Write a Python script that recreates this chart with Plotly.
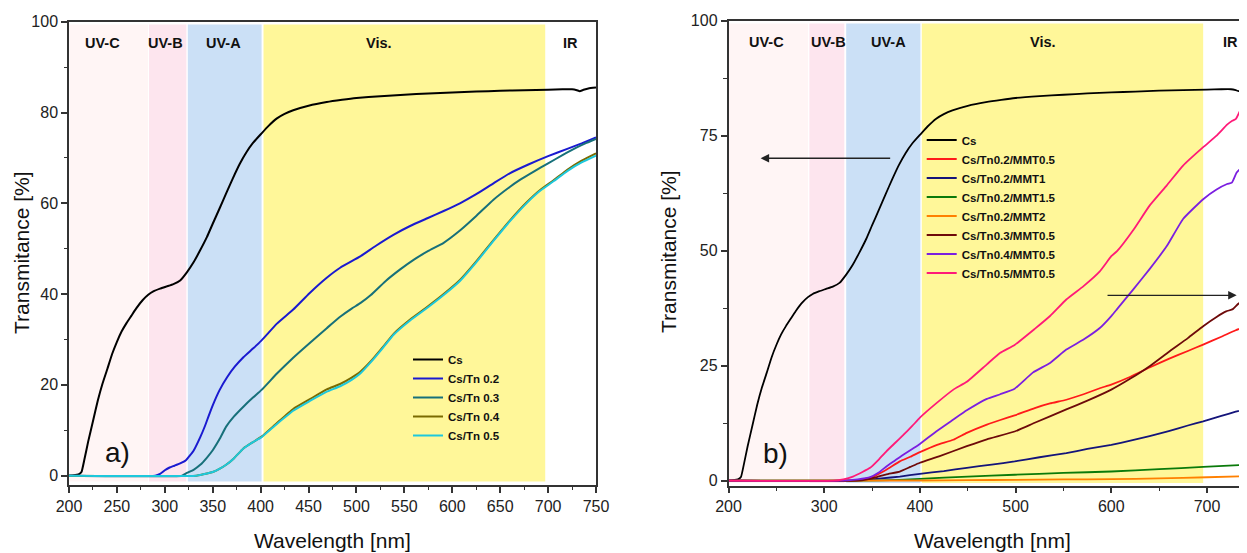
import plotly.graph_objects as go

# ---------------- data ----------------
cs_wl = [200, 205, 210, 213, 216, 220, 225, 230, 235, 240, 245, 250, 255, 260, 265, 270, 277, 283, 288, 295,
         302, 309, 316, 323, 330, 337, 344, 350, 357, 364, 371, 378, 385, 392, 401, 408, 417, 425, 434, 450,
         469, 485, 500, 525, 550, 575, 600, 625, 650, 675, 700, 715, 725, 730, 733, 737, 742, 750]
cs_t = [0, 0.1, 0.3, 0.8, 3.5, 7.5, 12, 16.5, 20.3, 23.5, 26.8, 29.5, 31.8, 33.6, 35.2, 36.8, 38.7, 39.9, 40.6, 41.2,
        41.7, 42.2, 43.0, 44.8, 47.0, 49.7, 52.6, 55.5, 58.8, 62.2, 65.5, 68.6, 71.2, 73.3, 75.4, 77.0, 78.7, 79.7, 80.5, 81.5,
        82.3, 82.8, 83.2, 83.6, 83.9, 84.2, 84.4, 84.6, 84.8, 84.9, 85.0, 85.1, 85.1, 84.9, 84.7, 85.0, 85.3, 85.5]

tn02_wl = [200, 290, 295, 300, 305, 310, 316, 322, 330, 337, 342, 346, 350, 357, 365, 373, 382, 392, 401, 417,
           434, 451, 469, 483, 504, 520, 539, 556, 574, 591, 608, 625, 643, 660, 680, 700, 720, 735, 750]
tn02_t = [0, 0, 0.4, 1.2, 1.8, 2.2, 2.7, 3.4, 5.5, 8.5, 11.0, 13.3, 15.5, 18.8, 21.7, 24.0, 26.1, 28.0, 29.8, 33.5,
          36.6, 40.2, 43.6, 45.8, 48.3, 50.6, 53.1, 55.0, 56.7, 58.3, 60.0, 62.0, 64.4, 66.6, 68.6, 70.4, 72.0, 73.2, 74.5]

tn03_wl = [200, 318, 323, 330, 337, 344, 350, 357, 364, 372, 382, 392, 401, 417, 434, 451, 469, 483, 495, 504,
           515, 530, 546, 560, 575, 591, 608, 625, 643, 660, 671, 685, 700, 715, 730, 740, 750]
tn03_t = [0, 0, 0.6, 1.3, 2.4, 4.0, 5.6, 8.0, 10.8, 13.0, 15.2, 17.2, 18.9, 22.5, 26.0, 29.2, 32.5, 35.0, 36.8, 38.0,
          39.8, 42.8, 45.5, 47.6, 49.5, 51.3, 54.0, 57.2, 60.8, 63.6, 65.2, 67.0, 68.8, 70.6, 72.3, 73.3, 74.2]

tn04_wl = [200, 333, 340, 350, 357, 364, 372, 382, 392, 401, 417, 434, 451, 469, 483, 495, 504, 515, 527, 539,
           556, 574, 591, 608, 625, 643, 660, 678, 692, 706, 720, 735, 750]
tn04_t = [0, 0, 0.3, 0.8, 1.5, 2.4, 3.8, 6.0, 7.4, 8.6, 11.6, 14.7, 16.8, 19.0, 20.2, 21.6, 22.9, 25.2, 28.2, 31.3,
          34.4, 37.2, 40.0, 43.1, 47.2, 51.9, 56.2, 60.3, 63.0, 65.1, 67.4, 69.4, 71.0]

tn05_wl = [200, 333, 340, 350, 357, 364, 372, 382, 392, 401, 417, 434, 451, 469, 483, 495, 504, 515, 527, 539,
           556, 574, 591, 608, 625, 643, 660, 678, 692, 706, 720, 735, 750]
tn05_t = [0, 0, 0.3, 0.8, 1.5, 2.4, 3.8, 6.0, 7.4, 8.5, 11.4, 14.3, 16.4, 18.5, 19.7, 21.1, 22.5, 25.0, 28.0, 31.1,
          34.2, 37.0, 39.8, 42.9, 47.0, 51.7, 56.0, 60.1, 62.8, 64.9, 67.1, 69.0, 70.5]

# right panel
m1_wl = [200, 330, 340, 350, 365, 379, 390, 400, 418, 435, 449, 470, 484, 499, 520, 536, 553, 571, 588, 600,
         620, 640, 660, 680, 696, 715, 730, 742]
m1_t = [0, 0, 0.3, 0.8, 2.4, 4.2, 5.2, 6.2, 7.8, 8.9, 10.4, 12.2, 13.2, 14.2, 15.8, 16.8, 17.6, 18.8, 20.1, 20.9,
        22.6, 24.6, 26.5, 28.2, 29.6, 31.3, 32.7, 33.6]

m2_wl = [200, 330, 345, 360, 379, 400, 425, 449, 475, 499, 525, 553, 575, 600, 620, 640, 660, 680, 696, 715, 730, 742]
m2_t = [0, 0, 0.2, 0.5, 0.9, 1.5, 2.1, 2.8, 3.5, 4.2, 5.1, 6.0, 6.9, 7.8, 8.7, 9.7, 10.8, 12.0, 12.9, 14.1, 15.0, 15.6]

m3_wl = [200, 340, 379, 400, 450, 499, 550, 600, 650, 696, 742]
m3_t = [0, 0, 0.2, 0.4, 0.9, 1.3, 1.7, 2.0, 2.5, 3.0, 3.5]

m4_wl = [200, 400, 450, 500, 550, 600, 650, 700, 742]
m4_t = [0, 0.05, 0.12, 0.2, 0.28, 0.35, 0.5, 0.75, 1.0]

m5_wl = [200, 335, 345, 355, 365, 379, 390, 400, 420, 449, 470, 499, 520, 553, 575, 600, 620, 640, 660, 680,
         696, 710, 720, 727, 733, 742]
m5_t = [0, 0, 0.3, 0.8, 1.4, 2.0, 3.0, 3.9, 5.3, 7.5, 9.0, 10.7, 12.6, 15.5, 17.4, 19.8, 22.2, 24.9, 28.0, 31.0,
        33.6, 35.6, 36.8, 37.3, 38.5, 39.4]

m6_wl = [200, 320, 335, 348, 357, 365, 374, 383, 392, 400, 417, 435, 449, 470, 484, 499, 518, 536, 553, 571,
         588, 600, 606, 623, 640, 658, 675, 696, 710, 721, 726, 731, 737, 742]
m6_t = [0, 0, 0.3, 0.8, 1.8, 3.1, 4.4, 5.7, 6.9, 8.0, 10.7, 13.3, 15.3, 17.8, 18.8, 20.0, 23.5, 25.6, 28.5, 30.7,
        33.2, 35.8, 37.3, 41.6, 46.0, 51.0, 56.9, 61.2, 63.3, 64.5, 64.8, 67.0, 68.2, 68.8]

m7_wl = [200, 310, 320, 330, 340, 348, 357, 365, 374, 383, 392, 400, 417, 435, 449, 470, 484, 499, 520, 536,
         553, 571, 588, 600, 606, 623, 640, 658, 675, 696, 710, 721, 726, 730, 735, 742]
m7_t = [0, 0, 0.3, 0.9, 1.9, 2.8, 4.6, 6.4, 8.2, 10.0, 11.9, 13.7, 16.8, 19.8, 21.5, 25.3, 27.8, 29.5, 33.0, 35.8,
        39.4, 42.3, 45.5, 48.8, 49.9, 54.5, 59.8, 64.2, 68.5, 72.5, 75.0, 77.4, 78.2, 78.6, 80.6, 82.6]

left_names = ["Cs", "Cs/Tn 0.2", "Cs/Tn 0.3", "Cs/Tn 0.4", "Cs/Tn 0.5"]
left_colors = ["#000000", "#1a1ad0", "#17707a", "#7a6a00", "#1ec8dc"]
left_x = [cs_wl, tn02_wl, tn03_wl, tn04_wl, tn05_wl]
left_y = [cs_t, tn02_t, tn03_t, tn04_t, tn05_t]

right_names = ["Cs", "Cs/Tn0.2/MMT0.5", "Cs/Tn0.2/MMT1", "Cs/Tn0.2/MMT1.5", "Cs/Tn0.2/MMT2",
               "Cs/Tn0.3/MMT0.5", "Cs/Tn0.4/MMT0.5", "Cs/Tn0.5/MMT0.5"]
right_colors = ["#000000", "#ff1a1a", "#14147a", "#0a7a0a", "#ff8000", "#6e0a0a", "#7b1fe0", "#ff1a78"]
right_x = [cs_wl, m1_wl, m2_wl, m3_wl, m4_wl, m5_wl, m6_wl, m7_wl]
right_y = [cs_t, m1_t, m2_t, m3_t, m4_t, m5_t, m6_t, m7_t]

region_colors = ["#fff5f5", "#fde5ee", "#cbe0f6", "#fff799"]
left_bands = [(200.5, 282.5), (283.5, 322.5), (324, 401), (403, 697)]
right_bands = [(200.5, 283), (284.5, 321), (323, 400.5), (402, 696)]
label_names = ["UV-C", "UV-B", "UV-A", "Vis.", "IR"]
left_label_x = [235, 301, 361, 524, 723]
right_label_x = [240, 304, 367, 529, 725]

FONT = "Arial, 'Liberation Sans', sans-serif"
# the page body has an 8px margin: the figure is laid out in page pixels minus that offset
OFF = 8
W, H = 1247 - OFF, 553 - OFF


def px(x):
    return (x - OFF) / W


def py(y):
    return 1 - (y - OFF) / H


fig = go.Figure()
for n, xs, ys, c in zip(left_names, left_x, left_y, left_colors):
    fig.add_trace(go.Scatter(x=xs, y=ys, mode="lines", name=n,
                             line=dict(color=c, width=2, shape="spline", smoothing=0.4),
                             xaxis="x", yaxis="y", legend="legend"))
for n, xs, ys, c in zip(right_names, right_x, right_y, right_colors):
    fig.add_trace(go.Scatter(x=xs, y=ys, mode="lines", name=n,
                             line=dict(color=c, width=1.8, shape="spline", smoothing=0.4),
                             xaxis="x2", yaxis="y2", legend="legend2"))

shapes = []
for (x0, x1), col in zip(left_bands, region_colors):
    shapes.append(dict(type="rect", xref="x", yref="y", x0=x0, x1=x1, y0=-1.3, y1=99.4,
                       fillcolor=col, line=dict(width=0), layer="below"))
for (x0, x1), col in zip(right_bands, region_colors):
    shapes.append(dict(type="rect", xref="x2", yref="y2", x0=x0, x1=x1, y0=-0.5, y1=99.4,
                       fillcolor=col, line=dict(width=0), layer="below"))

ann = []
lfont = dict(family=FONT, size=14.5, color="#111", weight="bold")
for t, x in zip(label_names, left_label_x):
    ann.append(dict(text=t, x=x, y=95.3, xref="x", yref="y", showarrow=False, font=lfont,
                    xanchor="center", yanchor="middle"))
for t, x in zip(label_names, right_label_x):
    ann.append(dict(text=t, x=x, y=95.4, xref="x2", yref="y2", showarrow=False, font=lfont,
                    xanchor="center", yanchor="middle"))
ann.append(dict(text="a)", x=251, y=5.2, xref="x", yref="y", showarrow=False,
                xanchor="center", yanchor="middle", font=dict(family=FONT, size=28, color="#111")))
ann.append(dict(text="b)", x=249, y=6.0, xref="x2", yref="y2", showarrow=False,
                xanchor="center", yanchor="middle", font=dict(family=FONT, size=28, color="#111")))
# arrows
ann.append(dict(text="", x=233.6, y=70.1, ax=370.5, ay=70.1, xref="x2", yref="y2", axref="x2", ayref="y2",
                showarrow=True, arrowhead=2, arrowsize=1.3, arrowwidth=1.3, arrowcolor="#222"))
ann.append(dict(text="", x=731, y=40.3, ax=594.5, ay=40.3, xref="x2", yref="y2", axref="x2", ayref="y2",
                showarrow=True, arrowhead=2, arrowsize=1.3, arrowwidth=1.3, arrowcolor="#222"))
# axis titles
tfont = dict(family=FONT, size=21, color="#111")
ann.append(dict(text="Wavelength [nm]", x=px(332.5), y=py(540), xref="paper", yref="paper",
                xanchor="center", yanchor="middle", showarrow=False, font=tfont))
ann.append(dict(text="Wavelength [nm]", x=px(992), y=py(540), xref="paper", yref="paper",
                xanchor="center", yanchor="middle", showarrow=False, font=tfont))
ann.append(dict(text="Transmitance [%]", x=px(22), y=py(253), xref="paper", yref="paper",
                xanchor="center", yanchor="middle", showarrow=False, textangle=-90, font=tfont))
ann.append(dict(text="Transmitance [%]", x=px(668), y=py(252), xref="paper", yref="paper",
                xanchor="center", yanchor="middle", showarrow=False, textangle=-90, font=tfont))

tickfont = dict(family=FONT, size=16, color="#222")
axis_common = dict(showgrid=False, zeroline=False, showline=True, linecolor="#333", linewidth=1.5,
                   ticks="outside", ticklen=6, tickwidth=1.5, tickcolor="#333", tickfont=tickfont,
                   automargin=False)

fig.update_layout(
    template="none",
    width=W, height=H,
    margin=dict(l=0, r=0, t=0, b=0),
    paper_bgcolor="white", plot_bgcolor="white",
    font=dict(family=FONT),
    xaxis=dict(domain=[px(69), px(596)], range=[200, 750], dtick=50, tick0=200, mirror=True,
               minor=dict(dtick=25, ticklen=3.5, tickwidth=1.2, ticks="outside", tickcolor="#333"),
               anchor="y", **axis_common),
    yaxis=dict(domain=[py(485), py(21.7)], range=[-2.05, 100], dtick=20, tick0=0, mirror=True,
               minor=dict(dtick=10, ticklen=3.5, tickwidth=1.2, ticks="outside", tickcolor="#333"),
               anchor="x", **axis_common),
    xaxis2=dict(domain=[px(728.5), 1.0], range=[200, 741.8], dtick=100, tick0=200, mirror=True,
                minor=dict(dtick=50, ticklen=3.5, tickwidth=1.2, ticks="outside", tickcolor="#333"),
                anchor="y2", **axis_common),
    yaxis2=dict(domain=[py(485.5), py(20.7)], range=[-1.04, 100], dtick=25, tick0=0, mirror=False,
                minor=dict(dtick=12.5, ticklen=3.5, tickwidth=1.2, ticks="outside", tickcolor="#333"),
                anchor="x2", **axis_common),
    shapes=shapes,
    annotations=ann,
    legend=dict(x=px(408), y=py(345), xanchor="left", yanchor="top", bgcolor="rgba(0,0,0,0)",
                borderwidth=0, font=dict(family=FONT, size=11.5, color="#111", weight="bold")),
    legend2=dict(x=px(921.7), y=py(125.5), xanchor="left", yanchor="top", bgcolor="rgba(0,0,0,0)",
                 borderwidth=0, font=dict(family=FONT, size=11.5, color="#111", weight="bold")),
)

fig.write_html("out.html")
